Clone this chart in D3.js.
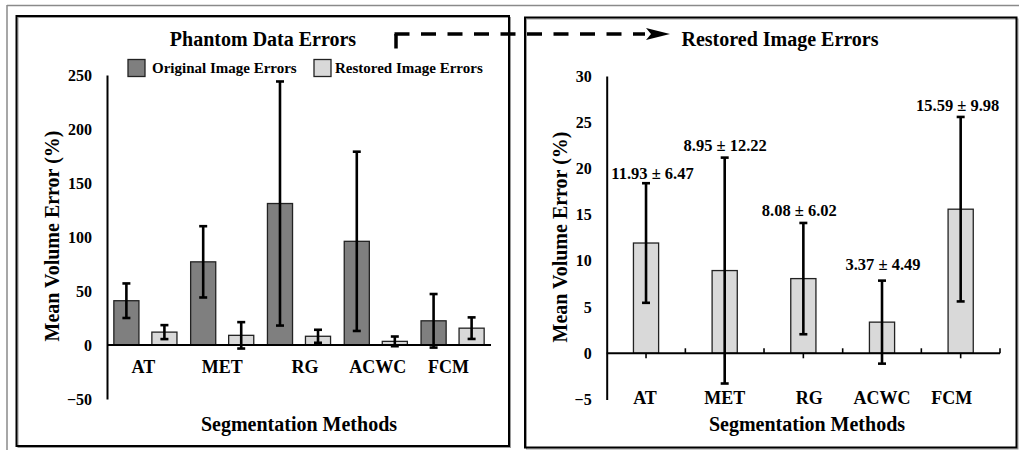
<!DOCTYPE html>
<html>
<head>
<meta charset="utf-8">
<script src="https://cdn.jsdelivr.net/npm/d3@7"></script>
<style>
  html, body { margin: 0; padding: 0; background: #fff; }
  svg { display: block; }
  text { font-family: "Liberation Serif", "Times New Roman", serif; font-weight: bold; fill: #000; }
</style>
</head>
<body>
<svg id="chart" width="1019" height="450"></svg>
<script>
// Segmentation methods compared in both panels
const methods = ["AT", "MET", "RG", "ACWC", "FCM"];

// Mean volume error (%) on the phantom data, before restoration
const originalMean = [41, 77, 131, 96, 22.4];
const originalSD   = [16, 33, 113, 83, 24.8];

// Mean volume error (%) after restoration
const restoredMean = [11.93, 8.95, 8.08, 3.37, 15.59];
const restoredSD   = [6.47, 12.22, 6.02, 4.49, 9.98];

// Axis ticks
const leftTicks  = [-50, 0, 50, 100, 150, 200, 250];
const rightTicks = [-5, 0, 5, 10, 15, 20, 25, 30];

const seriesNames = ["Original Image Errors", "Restored Image Errors"];

// Typesetting nudges (px) for the hand-placed labels
const leftCatNudge   = [-2, 0, 6, 2, -4];
const rightCatNudge  = [-1, 0, 6, 0, -9];
const valueLabelDx   = [6.5, 0.5, -4, 1, -3];
const valueLabelGap  = [4, 7, 7, 11, 6];

const COL_ORIG = "#7f7f7f";
const COL_REST = "#d9d9d9";

const svg = d3.select("#chart");

// ---------- outer frame and panel boxes ----------
svg.append("line").attr("x1", 7).attr("x2", 1019).attr("y1", 5.5).attr("y2", 5.5)
  .attr("stroke", "#8a8a8a").attr("stroke-width", 1.5);
svg.append("line").attr("x1", 7).attr("x2", 7).attr("y1", 5).attr("y2", 450)
  .attr("stroke", "#8a8a8a").attr("stroke-width", 1.5);

function panelBox(x, y, w, h) {
  svg.append("rect").attr("x", x + 1.5).attr("y", y + 1.5).attr("width", w).attr("height", h)
    .attr("fill", "none").attr("stroke", "#9a9a9a").attr("stroke-width", 1);
  svg.append("rect").attr("x", x).attr("y", y).attr("width", w).attr("height", h)
    .attr("fill", "none").attr("stroke", "#000").attr("stroke-width", 2);
}
panelBox(16.5, 16, 492.5, 430);
panelBox(525, 17.5, 491.5, 430);

// ---------- shared drawing helpers ----------
function errorBars(g, data, xc, y, cap) {
  const eb = g.append("g").attr("stroke", "#000").attr("stroke-width", 2.6);
  data.forEach(d => {
    const cx = xc(d), top = y(d.mean + d.sd), bot = y(d.mean - d.sd);
    eb.append("line").attr("x1", cx).attr("x2", cx).attr("y1", top).attr("y2", bot);
    eb.append("line").attr("x1", cx - cap / 2).attr("x2", cx + cap / 2).attr("y1", top).attr("y2", top);
    eb.append("line").attr("x1", cx - cap / 2).attr("x2", cx + cap / 2).attr("y1", bot).attr("y2", bot);
  });
}

function yAxis(g, y, ticks, x) {
  const ax = g.append("g").attr("transform", `translate(${x},0)`)
    .call(d3.axisLeft(y).tickValues(ticks).tickSize(0).tickSizeOuter(0).tickPadding(15));
  ax.select(".domain").attr("stroke", "#000").attr("stroke-width", 2);
  ax.selectAll("text").style("font-size", "16px")
    .style("font-family", "'Liberation Serif', serif").style("font-weight", "bold");
  return ax;
}

function axisTitles(g, cx, cy, ytx, yty) {
  g.append("text").attr("x", cx).attr("y", cy).attr("text-anchor", "middle")
    .style("font-size", "20px").text("Segmentation Methods");
  g.append("text").attr("transform", `translate(${ytx},${yty}) rotate(-90)`)
    .attr("text-anchor", "middle").style("font-size", "20px").text("Mean Volume Error (%)");
}

// ---------- left panel: phantom data errors ----------
const L = svg.append("g");
const yL = d3.scaleLinear().domain([-50, 250]).range([399, 75]);
const x0L = d3.scaleBand().domain(methods).range([107, 491]).padding(0);
const x1L = d3.scaleBand().domain(["orig", "rest"]).range([0, x0L.bandwidth()])
  .paddingInner(0.34).paddingOuter(0.18);

const leftData = methods.map((m, i) => ({
  method: m,
  bars: [
    { key: "orig", mean: originalMean[i], sd: originalSD[i], fill: COL_ORIG },
    { key: "rest", mean: restoredMean[i], sd: restoredSD[i], fill: COL_REST }
  ]
}));

const flatLeft = leftData.flatMap(d => d.bars.map(b => ({ ...b, method: d.method })));

L.append("g").selectAll("rect").data(flatLeft).join("rect")
  .attr("x", d => x0L(d.method) + x1L(d.key))
  .attr("width", x1L.bandwidth())
  .attr("y", d => yL(Math.max(0, d.mean)))
  .attr("height", d => Math.abs(yL(d.mean) - yL(0)))
  .attr("fill", d => d.fill).attr("stroke", "#222").attr("stroke-width", 1.3);

errorBars(L, flatLeft, d => x0L(d.method) + x1L(d.key) + x1L.bandwidth() / 2, yL, 8);

yAxis(L, yL, leftTicks, 107);
L.append("line").attr("x1", 107).attr("x2", 491).attr("y1", yL(0)).attr("y2", yL(0))
  .attr("stroke", "#000").attr("stroke-width", 2);

L.append("g").selectAll("text").data(methods).join("text")
  .attr("x", (d, i) => x0L(d) + x0L.bandwidth() / 2 + leftCatNudge[i]).attr("y", yL(0) + 28)
  .attr("text-anchor", "middle").style("font-size", "18px").text(d => d);

L.append("text").attr("x", 263).attr("y", 46).attr("text-anchor", "middle")
  .style("font-size", "20px").text("Phantom Data Errors");

// legend
const legend = L.append("g");
[[128, COL_ORIG, 152], [314, COL_REST, 335]].forEach((p, i) => {
  legend.append("rect").attr("x", p[0]).attr("y", 59.5).attr("width", 17).attr("height", 17)
    .attr("fill", p[1]).attr("stroke", "#222").attr("stroke-width", 1.3);
  legend.append("text").attr("x", p[2]).attr("y", 73).style("font-size", "15px").text(seriesNames[i]);
});

axisTitles(L, 299, 431, 59, 236);

// ---------- right panel: restored image errors ----------
const R = svg.append("g");
const yR = d3.scaleLinear().domain([-5, 30]).range([399.5, 76]);
const xR = d3.scaleBand().domain(methods).range([606.7, 1000])
  .paddingInner(0.68).paddingOuter(0.34);
const stepR = xR.step();

const rightData = methods.map((m, i) => ({ method: m, mean: restoredMean[i], sd: restoredSD[i] }));

R.append("g").selectAll("rect").data(rightData).join("rect")
  .attr("x", d => xR(d.method)).attr("width", xR.bandwidth())
  .attr("y", d => yR(Math.max(0, d.mean)))
  .attr("height", d => Math.abs(yR(d.mean) - yR(0)))
  .attr("fill", COL_REST).attr("stroke", "#222").attr("stroke-width", 1.3);

errorBars(R, rightData, d => xR(d.method) + xR.bandwidth() / 2, yR, 8);

yAxis(R, yR, rightTicks, 606.7);

// x axis line with boundary ticks (up) and centre ticks (down)
const x0R = xR.range()[0];
R.append("line").attr("x1", x0R).attr("x2", 1000).attr("y1", yR(0)).attr("y2", yR(0))
  .attr("stroke", "#000").attr("stroke-width", 2);
const tk = R.append("g").attr("stroke", "#000").attr("stroke-width", 1.6);
d3.range(1, methods.length + 1).forEach(i => {
  const bx = x0R + i * stepR;
  tk.append("line").attr("x1", bx).attr("x2", bx).attr("y1", yR(0) - 5).attr("y2", yR(0));
});
methods.forEach(m => {
  const cx = xR(m) + xR.bandwidth() / 2;
  tk.append("line").attr("x1", cx).attr("x2", cx).attr("y1", yR(0)).attr("y2", yR(0) + 5);
});

// value labels: mean ± SD above each error bar
R.append("g").selectAll("text").data(rightData).join("text")
  .attr("x", (d, i) => xR(d.method) + xR.bandwidth() / 2 + valueLabelDx[i])
  .attr("y", (d, i) => yR(d.mean + d.sd) - valueLabelGap[i])
  .attr("text-anchor", "middle").style("font-size", "16.5px")
  .text(d => `${d.mean.toFixed(2)} ± ${d.sd.toFixed(2)}`);

R.append("g").selectAll("text.cat").data(methods).join("text")
  .attr("x", (d, i) => xR(d) + xR.bandwidth() / 2 + rightCatNudge[i]).attr("y", 404)
  .attr("text-anchor", "middle").style("font-size", "18px").text(d => d);

R.append("text").attr("x", 780).attr("y", 46).attr("text-anchor", "middle")
  .style("font-size", "20px").text("Restored Image Errors");

axisTitles(R, 807, 431, 567, 237);

// ---------- dashed connector arrow between the panels ----------
const arrow = svg.append("g");
arrow.append("line").attr("x1", 396).attr("x2", 396).attr("y1", 48.5).attr("y2", 34)
  .attr("stroke", "#000").attr("stroke-width", 3.5);
arrow.append("line").attr("x1", 394.5).attr("x2", 645).attr("y1", 34).attr("y2", 34)
  .attr("stroke", "#000").attr("stroke-width", 3.5).attr("stroke-dasharray", "15,11.5");
arrow.append("path").attr("d", "M646,28 L670,34 L646,40 L651,34 Z").attr("fill", "#000");
</script>
</body>
</html>
